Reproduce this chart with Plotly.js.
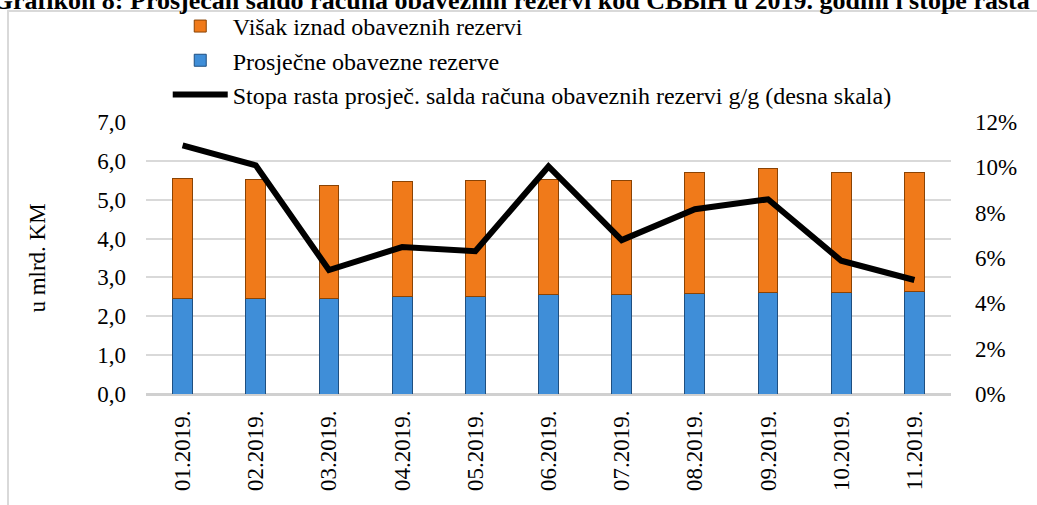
<!DOCTYPE html>
<html>
<head>
<meta charset="utf-8">
<script src="https://cdn.plot.ly/plotly-3.0.1.min.js"></script>
<style>
  html, body { margin: 0; padding: 0; background: #ffffff; overflow: hidden; }
  #frame { position: absolute; left: 7px; top: 10px; width: 1200px; height: 700px;
           border-left: 2px solid #d9d9d9; border-top: 2px solid #d9d9d9; z-index: 0; }
  #chart { position: absolute; left: 0; top: 0; width: 1037px; height: 505px; z-index: 1; }
</style>
</head>
<body>
<div id="frame"></div>
<div id="chart"></div>
<script>
const categories = ["01.2019.", "02.2019.", "03.2019.", "04.2019.", "05.2019.", "06.2019.",
                    "07.2019.", "08.2019.", "09.2019.", "10.2019.", "11.2019."];
const requiredReserves = [2.47, 2.47, 2.47, 2.50, 2.52, 2.55, 2.55, 2.59, 2.61, 2.61, 2.64];
const excessReserves   = [3.07, 3.05, 2.90, 2.97, 2.98, 2.96, 2.95, 3.10, 3.19, 3.08, 3.07];
const growthRate       = [10.97, 10.09, 5.47, 6.48, 6.30, 10.04, 6.79, 8.15, 8.59, 5.88, 5.03];

const leftTicks = [0, 1, 2, 3, 4, 5, 6, 7];
const rightTicks = [0, 2, 4, 6, 8, 10, 12];
const rightTickText = rightTicks.map(v => v + "%");

const serif = "Liberation Serif, Times New Roman, serif";

const traces = [
  {
    type: "bar", name: "Prosječne obavezne rezerve", x: categories, y: requiredReserves,
    marker: { color: "#3f8ed8", line: { color: "#1f4f80", width: 1 } },
    width: 0.27, legendrank: 2, legendgroup: "b", hoverinfo: "skip"
  },
  {
    type: "bar", name: "Višak iznad obaveznih rezervi", x: categories, y: excessReserves,
    marker: { color: "#f07a1a", line: { color: "#8a4304", width: 1 } },
    width: 0.27, legendrank: 1, legendgroup: "a", hoverinfo: "skip"
  },
  {
    type: "scatter", mode: "lines",
    name: "Stopa rasta prosječ. salda računa obaveznih rezervi g/g (desna skala)",
    x: categories, y: growthRate, yaxis: "y2",
    line: { color: "#000000", width: 6 },
    legendrank: 3, legendgroup: "c", hoverinfo: "skip"
  }
];

const layout = {
  width: 1037, height: 505,
  margin: { l: 146, r: 86, t: 122, b: 111, autoexpand: false },
  paper_bgcolor: "rgba(0,0,0,0)", plot_bgcolor: "rgba(0,0,0,0)",
  separators: ", ",
  barmode: "stack",
  font: { family: serif, size: 23, color: "#000000" },
  title: {
    text: "<b>Grafikon 8: Prosječan saldo računa obaveznih rezervi kod CBBiH u 2019. godini i stope rasta</b>",
    font: { family: serif, size: 26, color: "#000000" },
    xref: "container", yref: "container", x: 0.493, xanchor: "center",
    y: 1, yanchor: "middle"
  },
  showlegend: true,
  legend: {
    x: 0.027, y: 1.434, xanchor: "left", yanchor: "top",
    xref: "paper", yref: "paper",
    font: { family: serif, size: 24, color: "#000000" },
    traceorder: "grouped", tracegroupgap: 0, itemwidth: 55,
    bgcolor: "rgba(0,0,0,0)", borderwidth: 0
  },
  xaxis: {
    type: "category", tickangle: -90, ticks: "", showgrid: false, showline: false,
    tickfont: { family: serif, size: 23 }, ticklabelstandoff: 11
  },
  yaxis: {
    range: [0, 7], tickvals: leftTicks, tickformat: ".1f",
    showgrid: true, gridcolor: "#d9d9d9", gridwidth: 2,
    zeroline: true, zerolinecolor: "#d0d0d0", zerolinewidth: 3,
    ticks: "", showline: false, ticklabelstandoff: 19,
    tickfont: { family: serif, size: 23 },
    title: { text: "u mlrd. KM", font: { family: serif, size: 23 }, standoff: 45 }
  },
  yaxis2: {
    range: [0, 12], tickvals: rightTicks, ticktext: rightTickText,
    overlaying: "y", side: "right", showgrid: false, zeroline: false,
    ticks: "", showline: false, ticklabelstandoff: 23,
    tickfont: { family: serif, size: 23 }
  }
};

Plotly.newPlot("chart", traces, layout, { staticPlot: true, displayModeBar: false });
</script>
</body>
</html>
